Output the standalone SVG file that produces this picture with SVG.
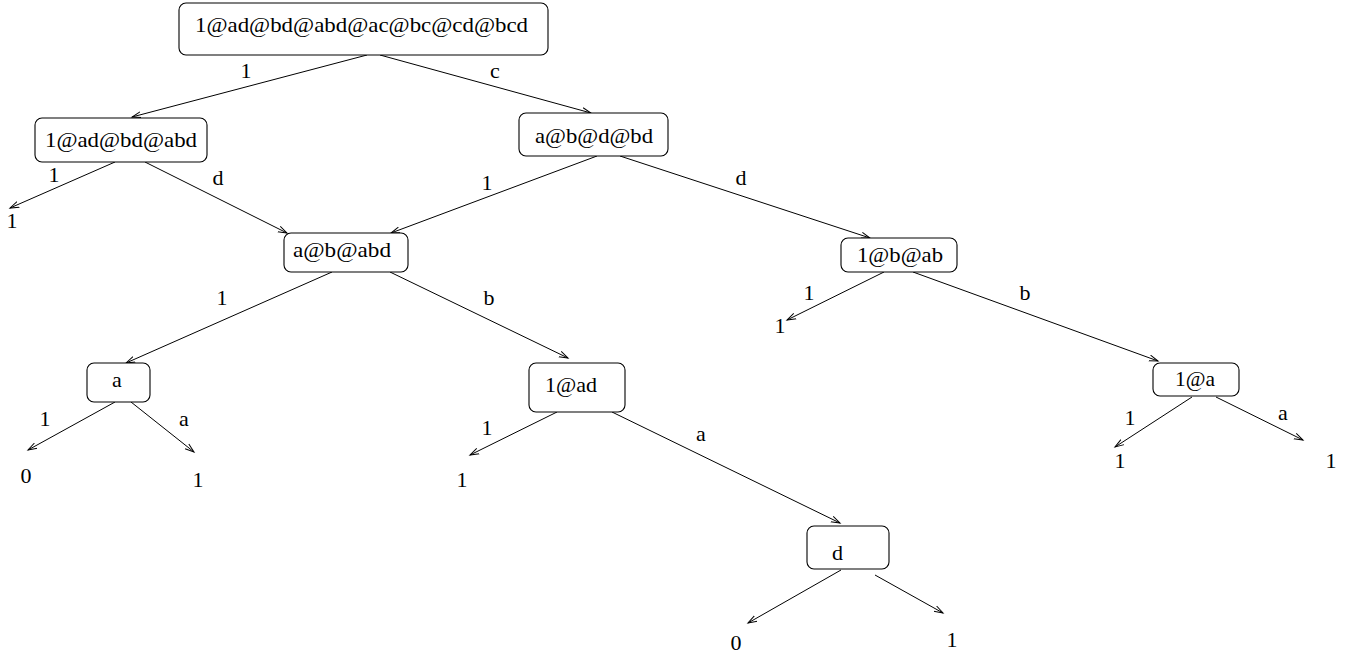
<svg xmlns="http://www.w3.org/2000/svg" width="1347" height="658" viewBox="0 0 1347 658">
<style>
.box{fill:#fff;stroke:#000;stroke-width:1.1}
.lbl{font-family:"Liberation Serif",serif;font-size:22px;fill:#000}
.c{text-anchor:middle}
.e{fill:none;stroke:#000;stroke-width:1;marker-end:url(#arr)}
</style>
<defs>
<marker id="arr" markerUnits="userSpaceOnUse" markerWidth="12" markerHeight="10" refX="9" refY="4" orient="auto" viewBox="0 0 12 8">
<path d="M0,1 L9,4 L0,7" fill="none" stroke="#000" stroke-width="1"/>
</marker>
</defs>
<rect width="1347" height="658" fill="#fff"/>
<g id="connectors">
<line class="e" x1="367" y1="55" x2="132" y2="117"/>
<line class="e" x1="380" y1="55" x2="591" y2="113"/>
<line class="e" x1="115" y1="162" x2="10" y2="208"/>
<line class="e" x1="145" y1="162" x2="287" y2="233"/>
<line class="e" x1="597" y1="156" x2="391" y2="233"/>
<line class="e" x1="620" y1="156" x2="870" y2="238"/>
<line class="e" x1="332" y1="272" x2="126" y2="363"/>
<line class="e" x1="390" y1="272" x2="568" y2="358"/>
<line class="e" x1="884" y1="272" x2="787" y2="320"/>
<line class="e" x1="913" y1="272" x2="1158" y2="361"/>
<line class="e" x1="115" y1="402" x2="28" y2="450"/>
<line class="e" x1="131" y1="402" x2="194" y2="452"/>
<line class="e" x1="557" y1="412" x2="470" y2="455"/>
<line class="e" x1="612" y1="412" x2="840" y2="523"/>
<line class="e" x1="841" y1="570" x2="748" y2="623"/>
<line class="e" x1="875" y1="575" x2="943" y2="613"/>
<line class="e" x1="1192" y1="397" x2="1115" y2="447"/>
<line class="e" x1="1216" y1="397" x2="1303" y2="440"/>
</g>
<g id="edge-labels" class="lbl c">
<text x="246" y="78">1</text>
<text x="495" y="78">c</text>
<text x="54" y="182">1</text>
<text x="218" y="185">d</text>
<text x="487" y="190">1</text>
<text x="741" y="185">d</text>
<text x="222" y="305">1</text>
<text x="489" y="305">b</text>
<text x="809" y="300">1</text>
<text x="1025" y="300">b</text>
<text x="45" y="426">1</text>
<text x="184" y="426">a</text>
<text x="487" y="435">1</text>
<text x="701" y="441">a</text>
<text x="1130" y="425">1</text>
<text x="1283" y="420">a</text>
</g>
<g id="leaves" class="lbl c">
<text x="12" y="228">1</text>
<text x="780" y="333">1</text>
<text x="26" y="483">0</text>
<text x="198" y="487">1</text>
<text x="462" y="487">1</text>
<text x="736" y="650">0</text>
<text x="952" y="647">1</text>
<text x="1120" y="468">1</text>
<text x="1331" y="468">1</text>
</g>
<g id="n-root">
<rect class="box" x="179" y="3" width="369" height="52" rx="7"/>
<text class="lbl" x="195" y="32" textLength="333" lengthAdjust="spacingAndGlyphs">1@ad@bd@abd@ac@bc@cd@bcd</text>
</g>
<g id="n-1adbdabd">
<rect class="box" x="35" y="118" width="172" height="44" rx="7"/>
<text class="lbl" x="45" y="147" textLength="152" lengthAdjust="spacingAndGlyphs">1@ad@bd@abd</text>
</g>
<g id="n-abdbd">
<rect class="box" x="519" y="113" width="149" height="43" rx="7"/>
<text class="lbl" x="535" y="143" textLength="118" lengthAdjust="spacingAndGlyphs">a@b@d@bd</text>
</g>
<g id="n-ababd">
<rect class="box" x="284" y="233" width="124" height="39" rx="7"/>
<text class="lbl" x="293" y="257" textLength="98" lengthAdjust="spacingAndGlyphs">a@b@abd</text>
</g>
<g id="n-1bab">
<rect class="box" x="841" y="238" width="116" height="34" rx="7"/>
<text class="lbl" x="857" y="262" textLength="86" lengthAdjust="spacingAndGlyphs">1@b@ab</text>
</g>
<g id="n-a">
<rect class="box" x="87" y="363" width="63" height="39" rx="7"/>
<text class="lbl" x="112" y="387">a</text>
</g>
<g id="n-1ad">
<rect class="box" x="529" y="363" width="96" height="49" rx="7"/>
<text class="lbl" x="545" y="392" textLength="52" lengthAdjust="spacingAndGlyphs">1@ad</text>
</g>
<g id="n-d">
<rect class="box" x="807" y="526" width="82" height="43" rx="7"/>
<text class="lbl" x="832" y="560">d</text>
</g>
<g id="n-1a">
<rect class="box" x="1153" y="363" width="86" height="33" rx="7"/>
<text class="lbl" x="1175" y="386" textLength="40" lengthAdjust="spacingAndGlyphs">1@a</text>
</g>
</svg>
